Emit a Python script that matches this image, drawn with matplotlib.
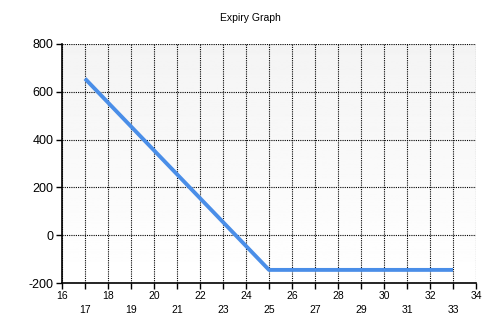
import numpy as np
import matplotlib.pyplot as plt

# expiry payoff
prices = [17, 25, 33]
payoff = [655, -145, -145]

x_ticks = list(range(16, 35))
y_ticks = [-200, 0, 200, 400, 600, 800]
title = "Expiry Graph"

fig = plt.figure(figsize=(5, 3.33), dpi=100)
ax = fig.add_axes([0.124, 0.150, 0.828, 0.718])

# light gray (top) -> white (bottom) background
grad = np.linspace(0.955, 1.0, 256).reshape(-1, 1)
ax.imshow(grad, cmap="gray", vmin=0, vmax=1, aspect="auto",
          extent=[16, 34, -200, 800], origin="upper", zorder=0)

ax.plot(prices, payoff, color="#4a8ee8", linewidth=2.8, zorder=3,
        solid_capstyle="butt")

ax.set_xlim(16, 34)
ax.set_ylim(-200, 800)
ax.set_xticks(x_ticks)
ax.set_xticklabels([str(v) if v % 2 == 0 else "\n" + str(v) for v in x_ticks],
                   fontsize=7.5, family="Liberation Sans", linespacing=1.45)
ax.set_yticks(y_ticks)
ax.set_yticklabels([str(v) for v in y_ticks], fontsize=9, family="Liberation Sans")
ax.tick_params(direction="out", length=4, width=1, pad=2, colors="black")

ax.grid(True, color="black", linestyle=(0, (1, 1)), linewidth=0.8, zorder=1)
ax.set_axisbelow(True)
ax.spines["top"].set_visible(False)
ax.spines["right"].set_visible(False)
ax.spines["left"].set_linewidth(1.2)
ax.spines["bottom"].set_linewidth(1.2)

fig.text(0.5, 0.945, title, ha="center", va="center", fontsize=7.5,
         family="Liberation Sans")

fig.savefig("out.png", dpi=100)
